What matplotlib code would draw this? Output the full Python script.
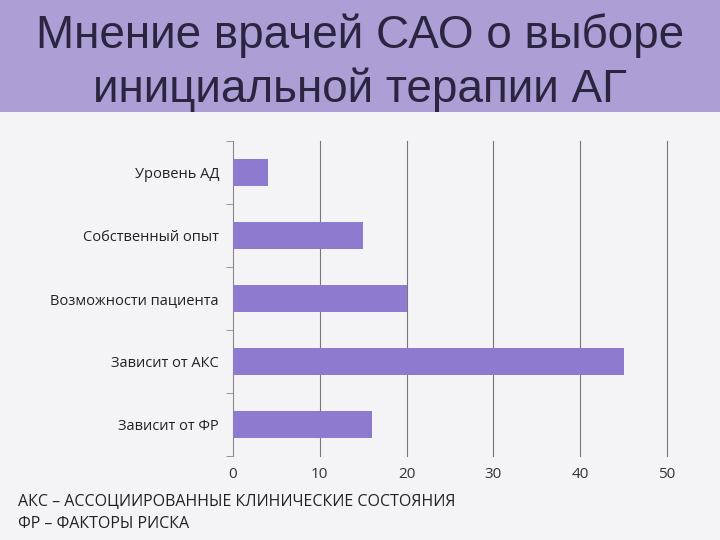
import matplotlib
matplotlib.use("Agg")
import matplotlib.pyplot as plt
from matplotlib.patches import Rectangle

categories = ["Уровень АД", "Собственный опыт", "Возможности пациента", "Зависит от АКС", "Зависит от ФР"]
values = [4, 15, 20, 45, 16]
xticks = [0, 10, 20, 30, 40, 50]

fig = plt.figure(figsize=(7.2, 5.4), dpi=100)
fig.patch.set_facecolor("#f4f3f6")
fig.add_artist(Rectangle((0, 1 - 112/540), 1, 112/540, transform=fig.transFigure,
                         facecolor="#ab9fd6", edgecolor="none", zorder=0))
fig.text(0.5, 1 - 36/540, "Мнение врачей САО о выборе", ha="center", va="center",
         fontsize=33, color="#2b2540", family="Liberation Sans")
fig.text(0.5, 1 - 90/540, "инициальной терапии АГ", ha="center", va="center",
         fontsize=33, color="#2b2540", family="Liberation Sans")

ax = fig.add_axes([233/720, 1 - 456/540, (667-233)/720, (456-141)/540])
ax.set_facecolor("none")
y = list(range(len(categories)))
ax.barh(y, values, height=0.42, color="#8e7bd0", zorder=3)
ax.set_ylim(len(categories) - 0.5, -0.5)
ax.set_xlim(0, 50)
ax.set_xticks(xticks)
ax.set_xticklabels([str(t) for t in xticks], fontsize=11, color="#333333", family="Open Sans")
ax.set_yticks(y)
ax.set_yticklabels(categories, fontsize=10.5, color="#222222", family="Open Sans")
ax.set_yticks([i - 0.5 for i in range(len(categories) + 1)], minor=True)
ax.tick_params(axis="y", which="major", length=0, pad=10)
ax.tick_params(axis="y", which="minor", length=5, color="#888888")
ax.tick_params(axis="x", length=0, pad=8)
for t in xticks[1:]:
    ax.axvline(t, color="#777777", linewidth=0.8, zorder=0, clip_on=False)
for s in ["top", "right", "bottom"]:
    ax.spines[s].set_visible(False)
ax.spines["left"].set_color("#888888")

fig.text(18/720, 1 - 502/540, "АКС – АССОЦИИРОВАННЫЕ КЛИНИЧЕСКИЕ СОСТОЯНИЯ", fontsize=11.5,
         va="center", color="#222222", family="Open Sans")
fig.text(18/720, 1 - 524/540, "ФР – ФАКТОРЫ РИСКА", fontsize=11.5,
         va="center", color="#222222", family="Open Sans")

fig.savefig("out.png", dpi=100, facecolor=fig.get_facecolor())
